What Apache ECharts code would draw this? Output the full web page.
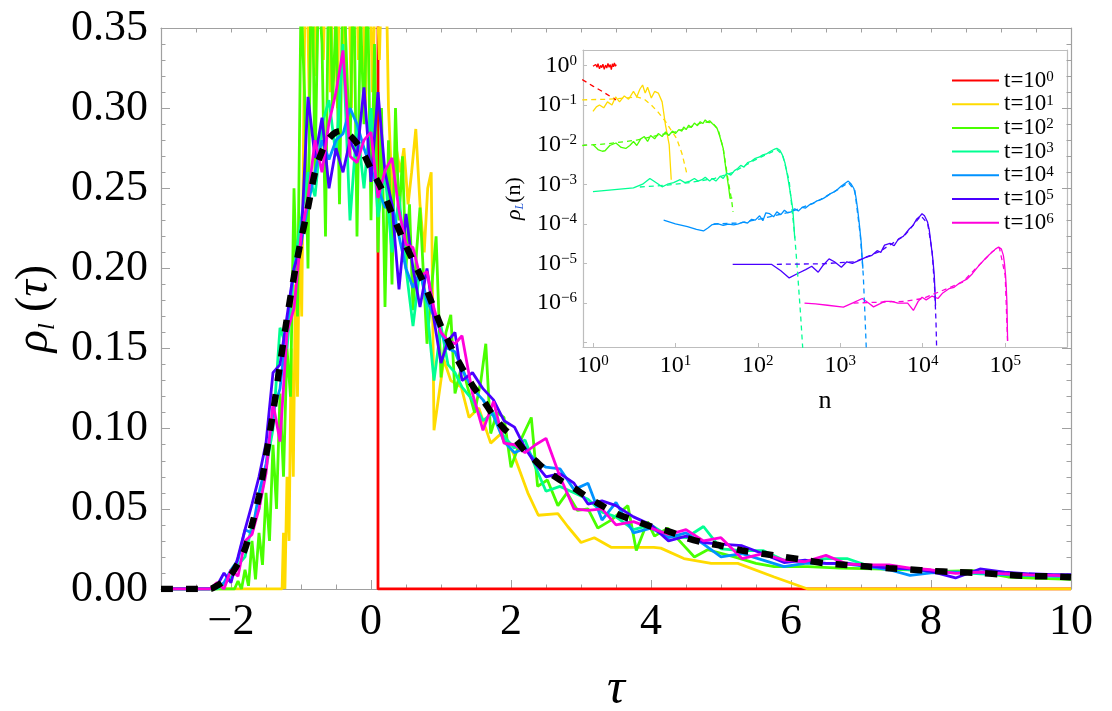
<!DOCTYPE html>
<html><head><meta charset="utf-8">
<script src="https://cdn.jsdelivr.net/npm/echarts@6/dist/echarts.min.js"></script>
<style>html,body{margin:0;padding:0;background:#fff}#c{width:1112px;height:711px}</style>
</head><body><div id="c"></div>
<script>
// ---------- main panel data ----------
const tauA = [-3.0,-2.5,-2.3,-2.2,-2.1,-2.0,-1.9,-1.8,-1.7,-1.6,-1.5,-1.4,-1.3,-1.2,-1.1,-1.0,-0.9,-0.8,-0.7,-0.6,-0.5,-0.4,-0.3,-0.2,-0.1,0.0,0.1,0.2,0.3,0.4,0.5,0.6,0.7,0.8,0.9,1.0,1.1,1.2,1.3,1.45,1.6,1.75,1.9,2.05,2.2,2.35,2.5,2.7,2.9,3.1,3.3,3.5,3.75,4.0,4.25,4.5,4.75,5.0,5.3,5.6,5.9,6.2,6.5,6.8,7.1,7.4,7.7,8.0,8.35,8.7,9.05,9.4,9.75,10.0];
const rhoTheory = [0,0,0,0.002,0.005,0.009,0.016,0.025,0.04,0.058,
  0.083,0.11,0.14,0.169,0.195,0.218,0.238,0.26,0.273,0.281,
  0.285,0.286,0.283,0.278,0.271,0.262,0.254,0.245,0.234,0.224,
  0.214,0.205,0.196,0.186,0.175,0.164,0.155,0.146,0.138,0.127,
  0.118,0.108,0.1,0.094,0.086,0.08,0.074,0.068,0.063,0.057,
  0.052,0.047,0.043,0.039,0.036,0.032,0.029,0.027,0.024,0.022,
  0.02,0.018,0.016,0.015,0.014,0.013,0.0122,0.0113,0.0105,0.01,
  0.0089,0.0081,0.0078,0.0073];
const rhoT3 = [0,0,0,0,0.003,0.007,0.015,0.02,0.04,0.05,
  0.075,0.1,0.163,0.15,0.2,0.23,0.26,0.245,0.29,0.305,
  0.27,0.34,0.23,0.29,0.25,0.3,0.232,0.26,0.21,0.245,
  0.2,0.164,0.2,0.175,0.13,0.164,0.14,0.135,0.126,0.118,
  0.105,0.11,0.095,0.088,0.093,0.076,0.061,0.064,0.06,0.056,
  0.048,0.045,0.037,0.04,0.033,0.032,0.039,0.025,0.024,0.024,
  0.018,0.017,0.019,0.019,0.0145,0.0135,0.012,0.011,0.0105,0.0095,
  0.009,0.0085,0.008,0.0075];
const rhoT4 = [0,0,0,0.001,0.004,0.012,0.018,0.037,0.035,0.06,
  0.078,0.11,0.125,0.165,0.2,0.215,0.24,0.26,0.28,0.268,
  0.28,0.284,0.3,0.29,0.275,0.262,0.25,0.238,0.24,0.22,
  0.2,0.188,0.198,0.18,0.17,0.16,0.15,0.148,0.137,0.125,
  0.118,0.108,0.092,0.085,0.088,0.08,0.076,0.075,0.062,0.066,
  0.043,0.054,0.035,0.038,0.032,0.035,0.028,0.02,0.022,0.018,
  0.014,0.016,0.016,0.0155,0.014,0.012,0.0085,0.01,0.0105,0.01,
  0.009,0.0085,0.008,0.008];
const rhoT5 = [0,0,0,0.002,0.01,0.004,0.02,0.037,0.053,0.07,
  0.091,0.135,0.14,0.17,0.2,0.215,0.307,0.269,0.294,0.25,
  0.275,0.26,0.28,0.27,0.313,0.254,0.31,0.26,0.24,0.187,
  0.234,0.2,0.176,0.2,0.168,0.141,0.155,0.16,0.13,0.135,
  0.125,0.118,0.105,0.101,0.088,0.078,0.07,0.072,0.066,0.053,
  0.055,0.052,0.045,0.04,0.03,0.033,0.029,0.028,0.027,0.022,
  0.0165,0.018,0.016,0.016,0.0145,0.013,0.0125,0.011,0.0069,0.0125,
  0.0105,0.0095,0.009,0.009];
const rhoT6 = [0,0,0,0.004,0,0.012,0.008,0.03,0.034,0.05,
  0.072,0.116,0.092,0.16,0.175,0.22,0.244,0.28,0.26,0.291,
  0.31,0.336,0.27,0.266,0.28,0.285,0.244,0.261,0.269,0.236,
  0.215,0.213,0.195,0.198,0.175,0.16,0.155,0.153,0.158,0.122,
  0.099,0.117,0.091,0.09,0.085,0.09,0.094,0.07,0.05,0.049,
  0.05,0.04,0.042,0.038,0.034,0.037,0.03,0.032,0.019,0.022,
  0.018,0.017,0.021,0.0155,0.015,0.015,0.013,0.012,0.0097,0.0105,
  0.0095,0.0088,0.0085,0.008];
const mainT0 = [[0.1,2.5],[0.1,0],[10,0]];
const mainT1 = [[-3.0,0],[-1.27,0],[-1.25,0.035],[-1.23,0],[-1.2,0.07],[-1.17,0.03],[-1.14,0.15],[-1.11,0.07],[-1.08,0.19],[-1.05,0.12],[-1.02,0.23],[-0.99,0.17],[-0.96,0.3],[-0.93,0.42],[-0.88,0.3],[-0.83,0.42],[-0.78,0.32],[-0.73,0.45],[-0.68,0.33],[-0.63,0.43],[-0.58,0.31],[-0.53,0.4],[-0.48,0.3],[-0.43,0.44],[-0.38,0.32],[-0.33,0.41],[-0.28,0.3],[-0.23,0.43],[-0.18,0.33],[-0.13,0.4],[-0.08,0.3],[-0.03,0.42],[0.02,0.31],[0.07,0.39],[0.12,0.33],[0.19,0.45],[0.25,0.3],[0.31,0.24],[0.36,0.275],[0.42,0.26],[0.47,0.275],[0.53,0.24],[0.58,0.26],[0.64,0.287],[0.7,0.24],[0.76,0.21],[0.81,0.25],[0.86,0.26],[0.9,0.099],[1.04,0.143],[1.14,0.13],[1.29,0.126],[1.4,0.107],[1.54,0.113],[1.71,0.091],[1.86,0.097],[2.03,0.085],[2.24,0.06],[2.39,0.046],[2.67,0.047],[2.81,0.039],[3.0,0.029],[3.19,0.032],[3.43,0.026],[3.76,0.026],[4.04,0.026],[4.14,0.0255],[4.47,0.019],[4.86,0.016],[5.24,0.016],[5.76,0.0075],[6.24,0],[10.0,0]];
const mainT2 = [[-3.0,0],[-2.0,0],[-1.95,0],[-1.9,0.005],[-1.85,0],[-1.8,0.012],[-1.75,0.002],[-1.7,0.03],[-1.65,0.006],[-1.6,0.035],[-1.55,0.015],[-1.5,0.06],[-1.45,0.03],[-1.4,0.09],[-1.35,0.05],[-1.3,0.122],[-1.25,0.07],[-1.2,0.15],[-1.15,0.12],[-1.1,0.25],[-1.05,0.17],[-1.0,0.37],[-0.95,0.31],[-0.9,0.2],[-0.85,0.42],[-0.8,0.26],[-0.75,0.38],[-0.7,0.34],[-0.65,0.22],[-0.6,0.41],[-0.55,0.3],[-0.5,0.36],[-0.45,0.24],[-0.4,0.39],[-0.35,0.33],[-0.3,0.27],[-0.25,0.4],[-0.2,0.22],[-0.15,0.36],[-0.1,0.29],[-0.05,0.38],[0.0,0.23],[0.05,0.34],[0.1,0.21],[0.15,0.3],[0.2,0.176],[0.25,0.28],[0.3,0.19],[0.35,0.3],[0.4,0.23],[0.45,0.27],[0.5,0.2],[0.55,0.24],[0.6,0.174],[0.65,0.21],[0.7,0.238],[0.8,0.153],[0.87,0.19],[0.93,0.22],[1.0,0.132],[1.07,0.16],[1.14,0.171],[1.2,0.122],[1.3,0.14],[1.38,0.126],[1.48,0.11],[1.57,0.13],[1.64,0.153],[1.71,0.097],[1.8,0.11],[1.9,0.107],[2.0,0.076],[2.14,0.093],[2.29,0.107],[2.38,0.064],[2.52,0.068],[2.67,0.052],[2.8,0.06],[2.95,0.049],[3.1,0.05],[3.24,0.038],[3.43,0.043],[3.67,0.052],[3.79,0.024],[3.95,0.042],[4.05,0.033],[4.24,0.038],[4.45,0.028],[4.62,0.02],[4.81,0.0245],[5.19,0.02],[5.5,0.016],[5.76,0.014],[6.24,0.014],[6.71,0.013],[7.19,0.0125],[7.7,0.012],[8.14,0.011],[8.6,0.0115],[9.1,0.0075],[9.67,0.0065],[10.0,0.006]];
const xTickLabels = [-2,0,2,4,6,8,10];

// ---------- inset data (n, rho_L(n)) ----------
const insetT0 = [[1.0,0.95],[1.05,0.85],[1.08,1.05],[1.12,0.9],[1.15,1.1],[1.2,0.82],[1.24,1.0],[1.28,0.88],[1.32,1.08],[1.37,0.8],[1.42,1.02],[1.47,0.86],[1.52,1.12],[1.57,0.9],[1.62,1.05],[1.67,0.78],[1.72,1.1],[1.77,0.92],[1.82,1.15],[1.87,0.95],[1.92,1.05]];
const theoryT0 = [[0.74,0.44],[1.0,0.3],[1.3,0.22],[1.9,0.135]];
const insetT1 = [[1.0,0.069],[1.1,0.09],[1.2,0.1],[1.35,0.085],[1.5,0.12],[1.7,0.1],[1.88,0.16],[2.1,0.12],[2.4,0.17],[2.7,0.14],[3.1,0.22],[3.4,0.16],[3.7,0.25],[4.0,0.32],[4.3,0.2],[4.6,0.28],[5.1,0.15],[5.6,0.22],[6.2,0.2],[6.9,0.12],[7.6,0.03],[8.4,0.01],[8.9,0.0013]];
const theoryT1 = [[0.74,0.135],[1.5,0.14],[2.5,0.15],[3.4,0.16],[4.2,0.14],[5.1,0.1],[6.2,0.065],[7.6,0.038],[9.0,0.022],[10.3,0.0145],[12.0,0.006],[13.9,0.0017]];
const insetT2 = [[1,0.01],[1.15,0.0075],[1.3,0.0068],[1.4,0.007],[1.6,0.0095],[1.9,0.011],[2.2,0.0085],[2.5,0.008],[2.8,0.0095],[3.1,0.012],[3.4,0.0095],[3.8,0.014],[4.2,0.016],[4.6,0.012],[5.0,0.017],[5.6,0.014],[6.2,0.019],[6.9,0.016],[7.6,0.021],[8.3,0.017],[9.2,0.022],[10,0.019],[11,0.024],[12,0.022],[12.6,0.028],[13.5,0.024],[14.5,0.031],[15.5,0.027],[17,0.035],[18.5,0.03],[20,0.038],[21.5,0.034],[23,0.042],[24.5,0.037],[26,0.04],[28,0.034],[30,0.03],[32,0.026],[34,0.018],[36,0.012],[38,0.008],[40,0.0035],[42,0.0017],[44,0.0009],[46,0.00044],[48,0.0004],[49,0.00045]];
const theoryT2 = [[0.74,0.0095],[1.5,0.0105],[2.5,0.012],[3.4,0.013],[6,0.017],[10,0.021],[15,0.028],[22,0.037],[28,0.036],[33,0.024],[38,0.008],[43,0.0015],[48,0.0004],[50,0.0002]];
const insetT3 = [[1,0.00065],[3.1,0.00081],[4.0,0.001],[4.9,0.0014],[5.8,0.0011],[6.9,0.00086],[8,0.001],[9.5,0.0011],[11.4,0.0013],[13,0.0011],[15,0.0012],[17,0.0014],[18.8,0.0012],[21,0.0013],[23,0.0015],[26,0.0012],[28,0.0014],[31,0.0012],[35,0.0016],[38,0.0014],[42,0.0019],[47,0.0017],[52,0.0022],[57,0.0025],[62,0.003],[68,0.0027],[75,0.0035],[83,0.0038],[93,0.0045],[103,0.0048],[115,0.0055],[127,0.0058],[139,0.0066],[150,0.0072],[160,0.0077],[170,0.0081],[185,0.0072],[198,0.0055],[213,0.0035],[228,0.0017],[245,0.0007],[265,0.00024],[275,0.00008],[280,0.000043]];
const theoryT3 = [[3.7,0.00085],[8,0.00095],[15,0.0011],[30,0.0014],[50,0.002],[90,0.004],[140,0.0062],[170,0.0075],[200,0.0055],[240,0.0012],[280,0.00005],[300,0.000008],[330,0.0000005],[354,0.00000005]];
const insetT4 = [[7.2,0.000124],[10,0.0001],[14,0.000085],[18,0.000072],[21.9,0.000066],[25,0.00008],[28,0.000096],[33,0.0001],[38,0.000092],[44,0.000098],[51,0.000094],[58,0.0001],[66,0.00011],[75,0.000105],[84,0.00013],[93,0.000124],[105,0.00016],[115,0.00012],[125,0.00019],[139,0.00018],[155,0.00015],[170,0.0002],[190,0.00017],[210,0.00022],[230,0.00019],[253,0.0002],[280,0.00024],[310,0.00021],[345,0.00026],[379,0.00025],[420,0.0003],[470,0.00033],[520,0.00038],[570,0.0004],[624,0.00044],[690,0.0005],[760,0.00058],[842,0.00064],[930,0.00075],[1030,0.0009],[1135,0.00104],[1250,0.0012],[1360,0.001],[1460,0.00078],[1540,0.0005],[1620,0.00024],[1700,0.0001],[1790,0.000035],[1880,0.0000074]];
const theoryT4 = [[29,0.0001],[60,0.000105],[120,0.00014],[250,0.0002],[500,0.00035],[900,0.0007],[1250,0.0011],[1500,0.0007],[1750,0.00005],[1900,0.000005],[2000,0.0000004],[2080,0.00000005]];
const insetT5 = [[49.5,0.0000095],[80,0.0000095],[146,0.0000095],[190,0.0000065],[240,0.0000043],[300,0.0000055],[380,0.000007],[450,0.0000085],[540,0.000006],[620,0.000009],[730,0.000013],[850,0.000011],[1030,0.000008],[1200,0.000011],[1400,0.00001],[1700,0.000012],[2000,0.000014],[2420,0.000016],[2800,0.000021],[3100,0.000019],[3440,0.000029],[4000,0.000032],[4500,0.000028],[5100,0.000042],[5800,0.000048],[6900,0.000075],[7600,0.00009],[8400,0.00013],[9100,0.00015],[9800,0.00018],[10500,0.00016],[11400,0.000113],[12000,0.00007],[12500,0.000035],[13200,0.000014],[13800,0.000005],[14300,0.00000087]];
const theoryT5 = [[170,0.0000095],[600,0.0000098],[1500,0.000011],[3000,0.00002],[6000,0.00005],[9500,0.00016],[11500,0.0001],[13000,0.00002],[14000,0.000002],[14500,0.0000003],[14800,0.00000005]];
const insetT6 = [[368,0.000001],[500,0.00000095],[700,0.00000088],[1090,0.00000079],[1400,0.000001],[1850,0.0000013],[2200,0.000001],[2530,0.0000008],[3000,0.00000095],[3440,0.0000011],[4200,0.0000011],[5000,0.000001],[6560,0.000001],[7700,0.00000065],[8800,0.0000011],[9800,0.0000014],[11000,0.0000012],[13000,0.0000015],[15300,0.0000013],[17500,0.0000018],[20800,0.0000023],[24000,0.0000025],[28000,0.0000032],[34300,0.000004],[40000,0.0000055],[45000,0.0000075],[50600,0.00001],[57000,0.000013],[63000,0.000016],[68900,0.000019],[76000,0.000023],[83200,0.000026],[90000,0.000023],[95000,0.000016],[98000,0.00001],[101000,0.000005],[103000,0.0000025],[105000,0.000001],[107000,0.00000011]];
const theoryT6 = [[1450,0.000001],[3000,0.00000105],[6000,0.0000011],[10000,0.0000013],[30000,0.0000033],[70000,0.00002],[85000,0.000025],[100000,0.000005],[107000,0.0000001]];

const legendNames = ['t=10^0','t=10^1','t=10^2','t=10^3','t=10^4','t=10^5','t=10^6'];
const colors = ['#ff0000','#ffdb00','#49ff00','#00ff92','#0092ff','#4900ff','#ff00db'];

// ---------- build ----------
const FONT = 'Liberation Serif';
const zipA = v => tauA.map((t, i) => [t, v[i]]);
const mainData = [mainT0, mainT1, mainT2, zipA(rhoT3), zipA(rhoT4), zipA(rhoT5), zipA(rhoT6)];
const insetSolid = [insetT0, insetT1, insetT2, insetT3, insetT4, insetT5, insetT6];
const insetDash = [theoryT0, theoryT1, theoryT2, theoryT3, theoryT4, theoryT5, theoryT6];
const FRAME = '#a0a0a0', IFRAME = '#bdbdbd';

function powLabel(minExp) {
  return function (v) {
    const e = Math.log10(v), r = Math.round(e);
    if (Math.abs(e - r) > 1e-6 || r < minExp) return '';
    return '10{s|' + (r < 0 ? '\u2212' + (-r) : r) + '}';
  };
}
const supRich = { s: { fontFamily: FONT, fontSize: 15, lineHeight: 8, verticalAlign: 'top', color: '#000' } };

const series = [];
mainData.forEach((d, k) => series.push({
  name: 'main' + k, type: 'line', xAxisIndex: 0, yAxisIndex: 0, data: d,
  showSymbol: false, symbol: 'none', clip: true,
  lineStyle: { color: colors[k], width: 2.8 }, itemStyle: { color: colors[k] }, z: 2 + k * 0.01
}));
series.push({
  name: 'theory', type: 'line', xAxisIndex: 0, yAxisIndex: 0, data: zipA(rhoTheory),
  showSymbol: false, symbol: 'none', smooth: 0.3, clip: true,
  lineStyle: { color: '#000', width: 6.5, type: [12, 13], cap: 'butt' }, z: 3
});
insetSolid.forEach((d, k) => series.push({
  name: legendNames[k], type: 'line', xAxisIndex: 3, yAxisIndex: 2, data: d,
  showSymbol: false, symbol: 'none', clip: true,
  lineStyle: { color: colors[k], width: 1.3 }, itemStyle: { color: colors[k] }, z: 4
}));
insetDash.forEach((d, k) => series.push({
  name: 'dash' + k, type: 'line', xAxisIndex: 3, yAxisIndex: 2, data: d,
  showSymbol: false, symbol: 'none', clip: true,
  lineStyle: { color: colors[k], width: 1.3, type: [5, 4] }, z: 4
}));

const mainX = { gridIndex: 0, type: 'value', min: -3, max: 10, splitLine: { show: false } };
const mainY = { gridIndex: 0, type: 'value', min: 0, max: 0.35, interval: 0.05, splitLine: { show: false } };
const insetX = { gridIndex: 1, type: 'log', logBase: 10, min: 0.757, max: 562000, splitNumber: 6, splitLine: { show: false } };
const insetY = { gridIndex: 1, type: 'log', logBase: 10, min: 7.76e-8, max: 2.45, splitNumber: 8, splitLine: { show: false } };

const option = {
  animation: false,
  backgroundColor: '#fff',
  grid: [
    { left: 161, top: 28, width: 910, height: 561, outerBoundsMode: 'none', containLabel: false },
    { left: 583, top: 50, width: 484, height: 297, outerBoundsMode: 'none', containLabel: false }
  ],
  xAxis: [
    Object.assign({}, mainX, {
      position: 'bottom', interval: 1,
      axisLine: { show: true, onZero: false, lineStyle: { color: FRAME, width: 1.2 } },
      axisTick: { show: true, inside: true, length: 9, customValues: xTickLabels, lineStyle: { color: FRAME } },
      axisLabel: { show: true, customValues: xTickLabels, margin: 11, fontFamily: FONT, fontSize: 44, lineHeight: 44, color: '#000',
        formatter: v => (v < 0 ? '\u2212' + Math.abs(v) : String(v)) },
      name: '{i|\u03c4}', nameLocation: 'middle', nameGap: 73,
      nameTextStyle: { rich: { i: { fontFamily: FONT, fontStyle: 'italic', fontSize: 50, lineHeight: 56, color: '#000' } } }
    }),
    Object.assign({}, mainX, {
      position: 'bottom', interval: 0.5,
      axisLine: { show: false, onZero: false }, axisLabel: { show: false },
      axisTick: { show: true, inside: true, length: 4.5, lineStyle: { color: FRAME } }
    }),
    Object.assign({}, mainX, {
      position: 'top', interval: 0.5,
      axisLine: { show: true, onZero: false, lineStyle: { color: FRAME, width: 1.2 } }, axisLabel: { show: false },
      axisTick: { show: true, inside: true, length: 4.5, lineStyle: { color: FRAME } }
    }),
    Object.assign({}, insetX, {
      position: 'bottom',
      axisLine: { show: true, onZero: false, lineStyle: { color: IFRAME, width: 1.2 } },
      axisTick: { show: true, inside: true, length: 4, lineStyle: { color: IFRAME } },
      axisLabel: { show: true, margin: 7, fontFamily: FONT, fontSize: 24, lineHeight: 24, color: '#000', formatter: powLabel(-99), rich: supRich },
      name: 'n', nameLocation: 'middle', nameGap: 40,
      nameTextStyle: { fontFamily: FONT, fontSize: 26, lineHeight: 28, color: '#000' }
    }),
    Object.assign({}, insetX, {
      position: 'top',
      axisLine: { show: true, onZero: false, lineStyle: { color: IFRAME, width: 1.2 } },
      axisTick: { show: false }, axisLabel: { show: false }
    })
  ],
  yAxis: [
    Object.assign({}, mainY, {
      position: 'left',
      axisLine: { show: true, onZero: false, lineStyle: { color: FRAME, width: 1.2 } },
      axisTick: { show: true, inside: true, length: 9, lineStyle: { color: FRAME } },
      minorTick: { show: true, splitNumber: 5, length: 4.5, lineStyle: { color: FRAME } },
      axisLabel: { show: true, margin: 13, fontFamily: FONT, fontSize: 44, lineHeight: 44, color: '#000', formatter: v => v.toFixed(2) },
      name: '{i|\u03c1}{sb|l}{n| (}{i|\u03c4}{n|)}', nameLocation: 'middle', nameGap: 100, nameRotate: 90,
      nameTextStyle: { rich: {
        i: { fontFamily: FONT, fontStyle: 'italic', fontSize: 46, lineHeight: 50, color: '#000' },
        n: { fontFamily: FONT, fontSize: 46, lineHeight: 50, color: '#000' },
        sb: { fontFamily: FONT, fontStyle: 'italic', fontSize: 24, lineHeight: 30, verticalAlign: 'bottom', color: '#000' }
      } }
    }),
    Object.assign({}, mainY, {
      position: 'right',
      axisLine: { show: true, onZero: false, lineStyle: { color: FRAME, width: 1.2 } },
      axisTick: { show: true, inside: true, length: 9, lineStyle: { color: FRAME } },
      minorTick: { show: true, splitNumber: 5, length: 4.5, lineStyle: { color: FRAME } },
      axisLabel: { show: false }
    }),
    Object.assign({}, insetY, {
      position: 'left',
      axisLine: { show: true, onZero: false, lineStyle: { color: IFRAME, width: 1.2 } },
      axisTick: { show: true, inside: true, length: 4, lineStyle: { color: IFRAME } },
      axisLabel: { show: true, margin: 6, fontFamily: FONT, fontSize: 24, lineHeight: 24, color: '#000', formatter: powLabel(-6), rich: supRich },
      name: '{i|\u03c1}{sb|L}{n|(n)}', nameLocation: 'middle', nameGap: 57, nameRotate: 90,
      nameTextStyle: { rich: {
        i: { fontFamily: FONT, fontStyle: 'italic', fontSize: 22, lineHeight: 24, color: '#000' },
        n: { fontFamily: FONT, fontSize: 22, lineHeight: 24, color: '#000' },
        sb: { fontFamily: FONT, fontStyle: 'italic', fontSize: 12, lineHeight: 14, verticalAlign: 'bottom', color: '#1a4fd0' }
      } }
    }),
    Object.assign({}, insetY, {
      position: 'right',
      axisLine: { show: true, onZero: false, lineStyle: { color: IFRAME, width: 1.2 } },
      axisTick: { show: false }, axisLabel: { show: false }
    })
  ],
  legend: {
    data: legendNames, orient: 'vertical', left: 947, top: 64,
    itemWidth: 47, itemHeight: 2, itemGap: 0.7, icon: 'rect', selectedMode: false,
    formatter: n => 't=10{s|' + n.split('^')[1] + '}',
    textStyle: { fontFamily: FONT, fontSize: 23, lineHeight: 22, color: '#000', rich: supRich }
  },
  series: series
};
echarts.init(document.getElementById('c'), null, { renderer: 'canvas' }).setOption(option);
</script>
</body></html>
